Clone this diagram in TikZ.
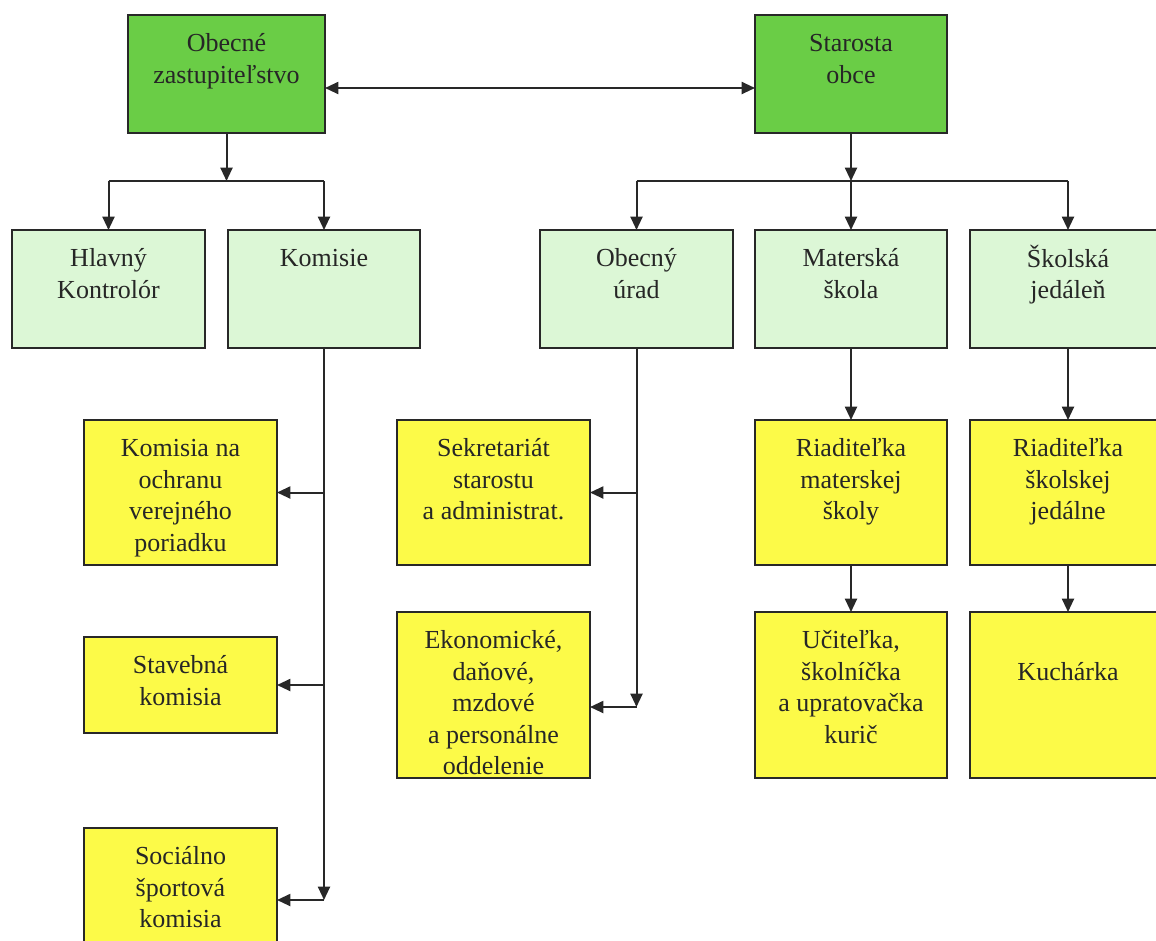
\documentclass[tikz,border=0pt]{standalone}
\usepackage{fontspec}
\setmainfont{Liberation Serif}
\usetikzlibrary{arrows.meta}
\newdimen\px \px=0.75pt
\definecolor{dgreen}{RGB}{106,205,70}
\definecolor{lgreen}{RGB}{220,247,214}
\definecolor{byellow}{RGB}{252,250,72}
\definecolor{lin}{RGB}{40,40,40}
% [extra pad]{name}{style}{x1}{y1}{x2}{y2}{text}
\newcommand\orgbox[8][0pt]{%
  \node[#3, anchor=north west, inner sep=0pt, outer sep=0pt] (#2) at (#4,#5)
   {\parbox[t][\dimexpr#7\px-#5\px\relax][t]{\dimexpr#6\px-#4\px\relax}{\centering\vspace*{\dimexpr11pt+#1\relax}\strut #8\par}};}
\begin{document}
\begin{tikzpicture}[x=0.75pt,y=-0.75pt,
  box/.style={draw=lin, line width=1.5pt, font=\fontsize{19.5pt}{23.6pt}\selectfont, text=black!85},
  topbox/.style={box, fill=dgreen},
  midbox/.style={box, fill=lgreen},
  lowbox/.style={box, fill=byellow},
  conn/.style={draw=lin, line width=1.5pt},
  arr/.style={conn, -{Triangle[length=10pt,width=9pt]}},
  dbl/.style={conn, {Triangle[length=10pt,width=9pt]}-{Triangle[length=10pt,width=9pt]}}]
\useasboundingbox (0,0) rectangle (1156,940);
\fill[white] (0,0) rectangle (1156,940);
\clip (0,0) rectangle (1156,940);

\orgbox{zast}{topbox}{128}{15}{325}{133}{Obecné\\zastupiteľstvo}
\orgbox{star}{topbox}{755}{15}{947}{133}{Starosta\\obce}

\orgbox{hk}{midbox}{12}{230}{205}{348}{Hlavný\\Kontrolór}
\orgbox{kom}{midbox}{228}{230}{420}{348}{Komisie}
\orgbox{urad}{midbox}{540}{230}{733}{348}{Obecný\\úrad}
\orgbox{mat}{midbox}{755}{230}{947}{348}{Materská\\škola}
\orgbox{jed}{midbox}{970}{230}{1166}{348}{Školská\\jedáleň}

\orgbox{kna}{lowbox}{84}{420}{277}{565}{Komisia na\\ochranu\\verejného\\poriadku}
\orgbox{stav}{lowbox}{84}{637}{277}{733}{Stavebná\\komisia}
\orgbox{soc}{lowbox}{84}{828}{277}{990}{Sociálno\\športová\\komisia}
\orgbox{sek}{lowbox}{397}{420}{590}{565}{Sekretariát\\starostu\\a administrat.}
\orgbox{eko}{lowbox}{397}{612}{590}{778}{Ekonomické,\\daňové,\\mzdové\\a personálne\\oddelenie}
\orgbox{rmat}{lowbox}{755}{420}{947}{565}{Riaditeľka\\materskej\\školy}
\orgbox{rjed}{lowbox}{970}{420}{1166}{565}{Riaditeľka\\školskej\\jedálne}
\orgbox{uci}{lowbox}{755}{612}{947}{778}{Učiteľka,\\školníčka\\a upratovačka\\kurič}
\orgbox[23.6pt]{kuch}{lowbox}{970}{612}{1166}{778}{Kuchárka}

\coordinate (ya) at (0,88);
\coordinate (yb) at (0,181);
\coordinate (yk) at (0,900);
\coordinate (yu) at (0,707);

\draw[dbl] (zast.east|-ya) -- (star.west|-ya);

\draw[arr] (zast.south) -- (zast.south|-yb);
\draw[conn] (hk.north|-yb) -- (kom.north|-yb);
\draw[arr] (hk.north|-yb) -- (hk.north);
\draw[arr] (kom.north|-yb) -- (kom.north);

\draw[arr] (star.south) -- (star.south|-yb);
\draw[conn] (urad.north|-yb) -- (jed.north|-yb);
\draw[arr] (urad.north|-yb) -- (urad.north);
\draw[arr] (mat.north|-yb) -- (mat.north);
\draw[arr] (jed.north|-yb) -- (jed.north);

\draw[arr] (kom.south) -- (kom.south|-yk);
\draw[arr] (kom.south|-yk) -- (soc.east|-yk);
\draw[arr] (kom.south|-kna.east) -- (kna.east);
\draw[arr] (kom.south|-stav.east) -- (stav.east);

\draw[arr] (urad.south) -- (urad.south|-yu);
\draw[arr] (urad.south|-yu) -- (eko.east|-yu);
\draw[arr] (urad.south|-sek.east) -- (sek.east);

\draw[arr] (mat.south) -- (rmat.north);
\draw[arr] (rmat.south) -- (uci.north);
\draw[arr] (jed.south) -- (rjed.north);
\draw[arr] (rjed.south) -- (kuch.north);
\end{tikzpicture}
\end{document}
